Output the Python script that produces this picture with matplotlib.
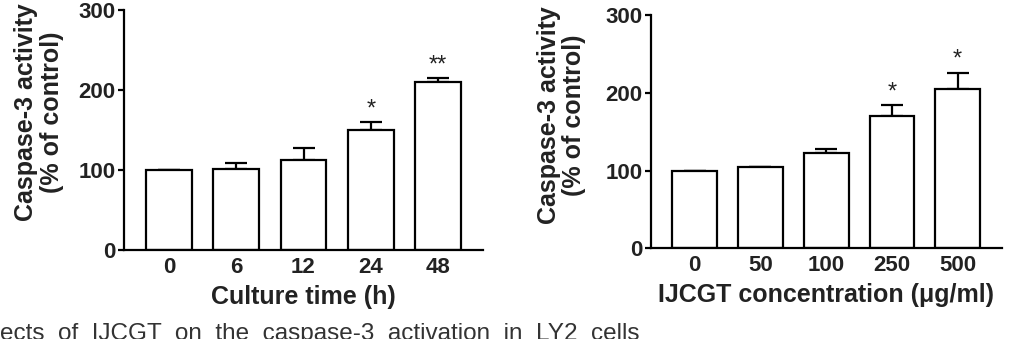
import matplotlib
matplotlib.use("Agg")
import matplotlib.pyplot as plt

plt.rcParams['font.family'] = ['Liberation Sans', 'DejaVu Sans']

# left panel: time course
time_labels = ['0', '6', '12', '24', '48']
time_vals = [100, 101.5, 112, 150, 210]
time_err = [0, 7, 15, 10, 5]
time_stars = ['', '', '', '*', '**']

# right panel: dose response
conc_labels = ['0', '50', '100', '250', '500']
conc_vals = [100, 104, 122, 170, 205]
conc_err = [0, 1, 5.5, 14, 21]
conc_stars = ['', '', '', '*', '*']

W, H = 1014, 339
fig = plt.figure(figsize=(W / 100, H / 100), dpi=100)

ax1 = fig.add_axes([124 / W, 89 / H, 359 / W, 240 / H])
ax2 = fig.add_axes([650.7 / W, 90.7 / H, 351 / W, 233.3 / H])


def draw(ax, labels, vals, err, stars, xlabel):
    x = list(range(len(vals)))
    ax.bar(x, vals, width=0.68, color='white', edgecolor='black',
           linewidth=1.6, zorder=2)
    ax.errorbar(x, vals, yerr=[[0] * len(err), err], fmt='none',
                ecolor='black', elinewidth=1.6, capsize=8, capthick=1.6,
                zorder=1)
    for i, s in enumerate(stars):
        if s:
            ax.annotate(s, (x[i], vals[i] + err[i]), xytext=(0, 5),
                        textcoords='offset points', ha='center',
                        va='baseline', fontsize=17, color='#222222')
    ax.set_xlim(-0.67, 4.67)
    ax.set_ylim(0, 300)
    ax.set_yticks([0, 100, 200, 300])
    ax.set_xticks(x)
    ax.set_xticklabels(labels)
    for side in ['top', 'right']:
        ax.spines[side].set_visible(False)
    for side in ['left', 'bottom']:
        ax.spines[side].set_linewidth(1.6)
    ax.tick_params(axis='y', length=4, width=1.6, pad=2, labelsize=16)
    ax.tick_params(axis='x', length=0, pad=5, labelsize=16)
    for lab in ax.get_xticklabels() + ax.get_yticklabels():
        lab.set_fontweight('bold')
        lab.set_color('#222222')
    ax.set_ylabel('Caspase-3 activity\n(% of control)', fontsize=18,
                  fontweight='bold', linespacing=1.1, color='#222222')
    ax.yaxis.label.set_verticalalignment('center')
    ax.set_xlabel(xlabel, fontsize=18, fontweight='bold',
                  color='#222222', labelpad=5)


draw(ax1, time_labels, time_vals, time_err, time_stars, 'Culture time (h)')
draw(ax2, conc_labels, conc_vals, conc_err, conc_stars,
     'IJCGT concentration (\u03bcg/ml)')

ax1.yaxis.set_label_coords(-0.237, 0.575)
ax2.yaxis.set_label_coords(-0.254, 0.571)

fig.text(0, -1 / H, 'ects  of  IJCGT  on  the  caspase-3  activation  in  LY2  cells',
         fontsize=17.5, ha='left', va='baseline', color='#333333')

fig.savefig('out.png', dpi=100)
